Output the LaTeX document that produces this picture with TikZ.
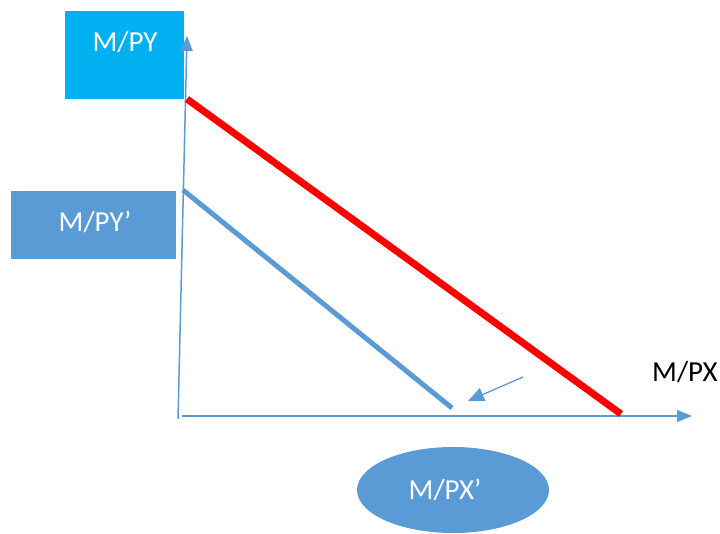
\documentclass[tikz,border=0pt]{standalone}
\usepackage{fontspec}
\setmainfont{Carlito}
\usetikzlibrary{shapes.geometric,arrows.meta}
\definecolor{axisblue}{HTML}{5B9BD5}
\definecolor{boxcyan}{HTML}{00B0F0}
\definecolor{linered}{HTML}{FF0000}
\begin{document}
\begin{tikzpicture}[x=1pt,y=-1pt,
  lbl/.style={font=\fontsize{29}{34}\selectfont, inner sep=0pt},
  wlbl/.style={lbl, text=white},
  axis/.style={draw=axisblue, line width=1.5pt, -{Triangle[length=15pt,width=12pt]}},
  pointer/.style={draw=axisblue, line width=1.3pt, -{Triangle[length=16pt,width=14pt]}}]
\useasboundingbox (0,0) rectangle (720,533);
% boxes
\fill[boxcyan] (65,11) rectangle (184,99);
\node[wlbl] (py) at (125,42) {M/PY};
\fill[axisblue] (11,191) rectangle (176,259);
\node[wlbl] (pyp) at (95,222) {M/PY’};
\node[ellipse, fill=axisblue, minimum width=192pt, minimum height=86pt, inner sep=0pt] (pxp) at (453,490) {};
\node[wlbl] (pxpt) at (445,490) {M/PX’};
\node[lbl] (px) at (685,372) {M/PX};
% axes
\coordinate (o1) at (178,419);
\coordinate (ytip) at (187,36);
\coordinate (o2) at (182,416);
\coordinate (xtip) at (692,416);
\draw[axis] (o1) -- (ytip);
\draw[axis] (o2) -- (xtip);
% budget lines
\coordinate (r1) at (187,99);
\coordinate (r2) at (621,414);
\draw[linered, line width=7pt] (r1) -- (r2);
\coordinate (b1) at (183,190);
\coordinate (b2) at (452,408);
\draw[axisblue, line width=5pt] (b1) -- (b2);
% pointer
\coordinate (a1) at (523,377);
\coordinate (a2) at (468,401);
\draw[pointer] (a1) -- (a2);
\end{tikzpicture}
\end{document}
